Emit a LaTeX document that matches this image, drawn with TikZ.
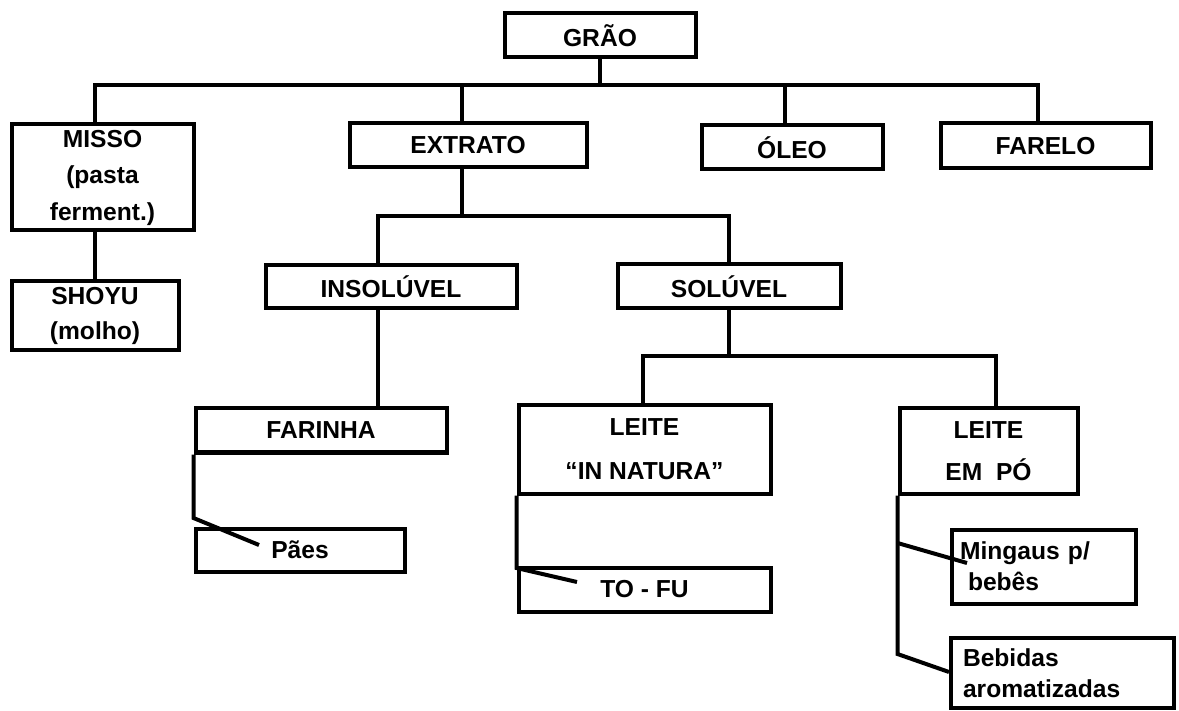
\documentclass[tikz,border=0pt]{standalone}
\usepackage{fontspec}
\setmainfont{Liberation Sans}
\begin{document}
\begin{tikzpicture}[x=1pt,y=-1pt]
\tikzset{
  bx/.style={draw, line width=4pt, inner sep=0pt, align=center,
             font=\fontsize{24.6}{28}\selectfont\bfseries},
  lsk/.style={font=\fontsize{24.6}{#1}\selectfont\bfseries},
  ln/.style={line width=4pt},
}
\useasboundingbox (0,0) rectangle (1179,711);
% boxes
\node[bx, minimum width=191pt, minimum height=44pt] (grao) at (600,35.5) {GRÃO};
\node[bx, lsk=36.5, minimum width=182pt, minimum height=106pt] (misso) at (102.5,177.5) {MISSO\\(pasta\\ferment.)};
\node[bx, lsk=35, minimum width=167pt, minimum height=69pt] (shoyu) at (95,316) {SHOYU\\(molho)};
\node[bx, minimum width=237pt, minimum height=44pt] (extrato) at (468,145.5) {EXTRATO};
\node[bx, minimum width=181pt, minimum height=44pt] (oleo) at (792,147.5) {ÓLEO};
\node[bx, minimum width=210pt, minimum height=45pt] (farelo) at (1045.5,146) {FARELO};
\node[bx, minimum width=251pt, minimum height=43pt] (insol) at (391,287) {INSOLÚVEL};
\node[bx, minimum width=223pt, minimum height=44pt] (solu) at (729,286.5) {SOLÚVEL};
\node[bx, minimum width=251pt, minimum height=44pt] (farinha) at (321,430.5) {FARINHA};
\node[bx, minimum width=209pt, minimum height=43pt] (paes) at (300,550) {Pães};
\node[bx, lsk=44, minimum width=252pt, minimum height=88pt] (natura) at (644.5,449.5) {LEITE\\“IN NATURA”};
\node[bx, minimum width=252pt, minimum height=44pt] (tofu) at (644.5,589.5) {TO - FU};
\node[bx, lsk=42, minimum width=178pt, minimum height=85pt] (empo) at (988.5,451) {LEITE\\EM~~PÓ};
\node[bx, lsk=31, align=left, text width=167pt, minimum width=184pt, minimum height=74pt] (mingaus) at (1043.5,566.5) {Mingaus p/\\\hspace*{8pt}bebês};
\node[bx, lsk=31, align=left, text width=200pt, minimum width=223pt, minimum height=70pt] (bebidas) at (1062,673) {\hspace*{1pt}Bebidas\\\hspace*{1pt}aromatizadas};
% connector points
\coordinate (bus1) at (0,85);
\coordinate (bus2) at (0,216);
\coordinate (bus3) at (0,356);
\coordinate (k1) at (194,518);
\coordinate (e1) at (259,545);
\coordinate (k2) at (517,568);
\coordinate (e2) at (577,582);
\coordinate (k3) at (898,543);
\coordinate (e3) at (967,563);
\coordinate (k4) at (898,654);
\coordinate (e4) at (949,672);
% connectors
\draw[ln] (grao.south) -- (grao.south |- bus1);
\draw[ln] ([xshift=-7.5pt]misso.north) -- ([xshift=-7.5pt]misso.north |- bus1)
   -- ([xshift=-7.5pt]farelo.north |- bus1) -- ([xshift=-7.5pt]farelo.north);
\draw[ln] ([xshift=-6pt]extrato.north) -- ([xshift=-6pt]extrato.north |- bus1);
\draw[ln] ([xshift=-7pt]oleo.north) -- ([xshift=-7pt]oleo.north |- bus1);
\draw[ln] (misso.south -| shoyu.north) -- (shoyu.north);
\draw[ln] ([xshift=-6pt]extrato.south) -- ([xshift=-6pt]extrato.south |- bus2);
\draw[ln] ([xshift=-13pt]insol.north) -- ([xshift=-13pt]insol.north |- bus2)
   -- (solu.north |- bus2) -- (solu.north);
\draw[ln] ([xshift=-13pt]insol.south) -- ([xshift=-13pt]insol.south |- farinha.north);
\draw[ln] (solu.south) -- (solu.south |- bus3);
\draw[ln] ([xshift=-1.5pt]natura.north) -- ([xshift=-1.5pt]natura.north |- bus3)
   -- ([xshift=7.5pt]empo.north |- bus3) -- ([xshift=7.5pt]empo.north);
\draw[ln] (farinha.south west) -- (farinha.south west |- k1) -- (e1);
\draw[ln] (natura.south west) -- (natura.south west |- k2) -- (e2);
\draw[ln] (empo.south west) -- (empo.south west |- k4) -- (e4);
\draw[ln] (empo.south west |- k3) -- (e3);
\end{tikzpicture}
\end{document}
